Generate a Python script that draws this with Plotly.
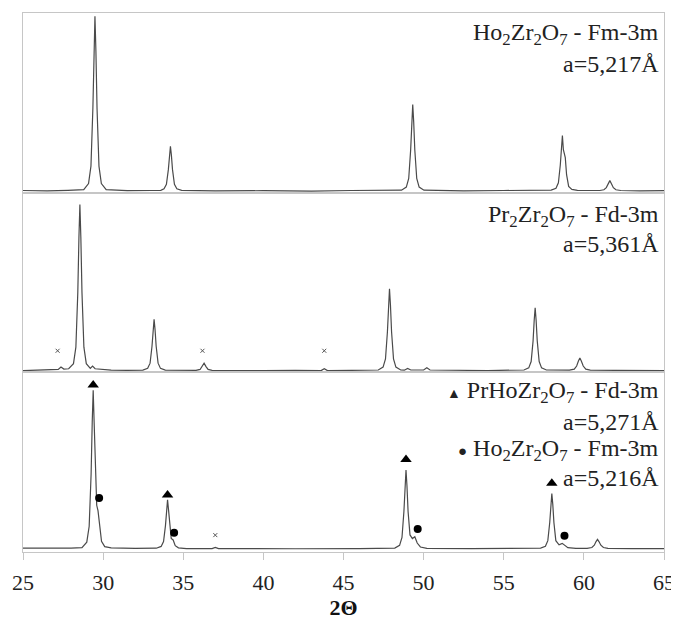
import plotly.graph_objects as go
from plotly.subplots import make_subplots

# ---------------- data ----------------
# Top pattern: Ho2Zr2O7 - Fm-3m
ho_2theta = [25.0, 26.5, 27.8, 28.79, 29.09, 29.24, 29.36, 29.43, 29.49, 29.55, 29.62, 29.74, 29.89, 30.19,
             31.5, 33.0, 33.6, 33.8, 33.95, 34.07, 34.14, 34.2, 34.26, 34.33, 34.45, 34.6, 34.9,
             37.0, 40.0, 43.0, 45.5, 48.62, 48.92, 49.07, 49.19, 49.26, 49.32, 49.38, 49.45, 49.57, 49.72, 50.02,
             52.5, 55.0, 57.96, 58.26, 58.41, 58.53, 58.6, 58.66, 58.72, 58.78, 58.84, 58.92, 59.05, 59.25, 59.6,
             61.0, 61.25, 61.4, 61.52, 61.62, 61.72, 61.84, 62.0, 62.3, 63.5, 65.0]
ho_int = [1.2, 1.0, 1.3, 1.7, 5.1, 14.8, 46.8, 78.8, 98.2, 78.8, 46.8, 14.8, 5.1, 1.7,
          1.1, 1.2, 1.3, 2.2, 4.6, 12.8, 20.9, 25.8, 20.9, 12.8, 4.6, 2.2, 1.3,
          1.0, 1.1, 0.9, 1.2, 1.4, 3.1, 7.9, 23.7, 39.4, 49.0, 39.4, 23.7, 7.9, 3.1, 1.4,
          1.0, 1.2, 1.4, 2.4, 5.5, 15.5, 26.0, 31.8, 24.0, 20.8, 19.5, 10.0, 3.5, 1.8, 1.3,
          1.2, 1.6, 2.8, 5.0, 6.7, 5.0, 2.8, 1.6, 1.2, 1.0, 1.1]

# Middle pattern: Pr2Zr2O7 - Fd-3m
pr_2theta = [25.0, 26.0, 27.0, 27.2, 27.37, 27.55, 27.85, 28.15, 28.3, 28.42, 28.49, 28.55, 28.61, 28.68,
             28.8, 28.95, 29.2, 29.34, 29.5, 30.5, 31.5, 32.48, 32.78, 32.93, 33.05, 33.12, 33.18, 33.24,
             33.31, 33.43, 33.58, 33.88, 35.0, 35.8, 36.05, 36.18, 36.3, 36.42, 36.55, 36.8, 38.5, 40.0,
             42.0, 43.6, 43.8, 44.0, 45.5, 47.17, 47.47, 47.62, 47.74, 47.81, 47.87, 47.93, 48.0, 48.12,
             48.27, 48.57, 48.8, 49.0, 49.2, 50.0, 50.2, 50.4, 52.0, 54.0, 56.26, 56.56, 56.71, 56.83,
             56.9, 56.96, 57.02, 57.09, 57.21, 57.36, 57.66, 58.5, 59.1, 59.4, 59.55, 59.66, 59.75, 59.84,
             59.96, 60.12, 60.4, 62.0, 63.5, 65.0]
pr_int = [1.0, 1.2, 1.3, 1.6, 3.0, 1.8, 2.0, 4.8, 14.0, 44.5, 75.0, 93.4, 75.0, 44.5,
          14.0, 4.8, 2.2, 3.5, 2.0, 1.2, 1.1, 1.2, 2.2, 5.1, 14.5, 23.8, 29.5, 23.8,
          14.5, 5.1, 2.2, 1.2, 1.0, 1.1, 1.6, 3.2, 5.1, 3.2, 1.6, 1.1, 0.9, 1.0,
          1.1, 1.0, 2.0, 1.0, 1.1, 1.3, 2.9, 7.5, 22.4, 37.5, 46.5, 37.5, 22.4, 7.5,
          2.9, 1.3, 1.2, 2.2, 1.3, 1.3, 2.5, 1.3, 1.0, 1.0, 1.3, 2.5, 6.0, 17.5,
          29.0, 35.9, 29.0, 17.5, 6.0, 2.5, 1.3, 1.1, 1.2, 1.8, 3.5, 6.3, 8.0, 6.3,
          3.5, 1.8, 1.2, 1.1, 1.0, 1.0]

# Bottom pattern: mixed PrHoZr2O7 (Fd-3m) + Ho2Zr2O7 (Fm-3m)
mix_2theta = [25.0, 27.0, 28.0, 28.68, 28.98, 29.13, 29.25, 29.32, 29.38, 29.44, 29.52, 29.6, 29.68, 29.76,
              29.9, 30.1, 30.5, 32.0, 33.32, 33.62, 33.77, 33.89, 33.96, 34.02, 34.08, 34.15, 34.25, 34.37,
              34.5, 34.7, 35.2, 36.8, 37.0, 37.2, 39.0, 42.0, 46.0, 48.2, 48.5, 48.65, 48.77, 48.84, 48.9,
              48.96, 49.03, 49.15, 49.3, 49.45, 49.6, 49.8, 50.2, 53.0, 56.0, 57.3, 57.6, 57.75, 57.87, 57.94,
              58.0, 58.06, 58.13, 58.25, 58.45, 58.65, 58.8, 59.0, 59.5, 60.2, 60.5, 60.65, 60.76, 60.85,
              60.94, 61.06, 61.22, 61.5, 63.0, 65.0]
mix_int = [2.2, 2.0, 2.2, 2.4, 5.5, 14.3, 43.4, 72.4, 90.0, 72.0, 42.0, 26.0, 23.0, 16.0,
           6.0, 3.0, 2.3, 2.0, 2.1, 3.1, 5.8, 14.7, 23.6, 29.0, 23.6, 14.7, 7.5, 6.7,
           3.5, 2.3, 1.9, 1.9, 2.6, 1.9, 1.8, 1.8, 1.9, 2.2, 3.7, 8.1, 22.5, 36.9, 45.6,
           36.9, 22.5, 9.5, 7.5, 8.5, 5.0, 2.8, 2.0, 1.9, 2.0, 2.2, 3.2, 6.3, 16.4, 26.5,
           32.6, 26.5, 16.4, 6.3, 4.0, 4.8, 3.6, 2.4, 2.0, 2.0, 2.5, 3.8, 5.8, 7.0,
           5.8, 3.8, 2.5, 2.0, 1.9, 1.9]

# Phase markers
tri_2theta = [29.38, 34.02, 48.9, 58.0]          # PrHoZr2O7 - Fd-3m
tri_int = [93.0, 31.7, 51.5, 38.2]
circ_2theta = [29.75, 34.43, 49.63, 58.79]       # Ho2Zr2O7 - Fm-3m
circ_int = [30.0, 10.7, 12.8, 9.0]
x_mid_2theta = [27.16, 36.2, 43.8]               # impurity marks, middle pattern
x_mid_int = [12.0, 12.0, 12.0]
x_bot_2theta = [37.0]                            # impurity mark, bottom pattern
x_bot_int = [9.4]

x_ticks = [25, 30, 35, 40, 45, 50, 55, 60, 65]

# ---------------- figure ----------------
LINE = "#4a4a4a"
FRAME = "#c6c6c6"
TXT = "#222222"
SERIF = "Liberation Serif"

fig = make_subplots(rows=3, cols=1, shared_xaxes=True, vertical_spacing=0)

fig.add_trace(go.Scatter(x=ho_2theta, y=ho_int, mode="lines",
                         line=dict(color=LINE, width=1.2)), row=1, col=1)
fig.add_trace(go.Scatter(x=pr_2theta, y=pr_int, mode="lines",
                         line=dict(color=LINE, width=1.2)), row=2, col=1)
fig.add_trace(go.Scatter(x=mix_2theta, y=mix_int, mode="lines",
                         line=dict(color=LINE, width=1.2)), row=3, col=1)

fig.add_trace(go.Scatter(x=x_mid_2theta, y=x_mid_int, mode="markers",
                         marker=dict(symbol="x-thin", size=4, line=dict(color="#555", width=1))),
              row=2, col=1)
fig.add_trace(go.Scatter(x=x_bot_2theta, y=x_bot_int, mode="markers",
                         marker=dict(symbol="x-thin", size=4, line=dict(color="#555", width=1))),
              row=3, col=1)
fig.add_trace(go.Scatter(x=tri_2theta, y=tri_int, mode="markers",
                         marker=dict(symbol="triangle-up", size=10, color="#000")), row=3, col=1)
fig.add_trace(go.Scatter(x=circ_2theta, y=circ_int, mode="markers",
                         marker=dict(symbol="circle", size=8, color="#000")), row=3, col=1)

for r in (1, 2, 3):
    fig.update_yaxes(range=[0, 100], showticklabels=False, ticks="", showgrid=False,
                     zeroline=False, showline=True, mirror=True, linecolor=FRAME, linewidth=1,
                     row=r, col=1)
    fig.update_xaxes(range=[25, 65], showgrid=False, zeroline=False, showline=True,
                     mirror=True, linecolor=FRAME, linewidth=1, row=r, col=1)

fig.update_xaxes(tickvals=x_ticks, ticks="outside", ticklen=7, tickcolor=FRAME,
                 ticklabelstandoff=4,
                 tickfont=dict(family=SERIF, size=22, color=TXT),
                 title=dict(text="<b>2Θ</b>", font=dict(family=SERIF, size=22, color="#111"),
                            standoff=0),
                 row=3, col=1)

ann_font = dict(family=SERIF, size=24, color=TXT)
labels = [
    ("Ho<sub>2</sub>Zr<sub>2</sub>O<sub>7</sub> - Fm-3m", 0.961),
    ("a=5,217Å", 0.9056),
    ("Pr<sub>2</sub>Zr<sub>2</sub>O<sub>7</sub> - Fd-3m", 0.624),
    ("a=5,361Å", 0.572),
    ("<span style='font-size:14px'>▲</span> PrHoZr<sub>2</sub>O<sub>7</sub> - Fd-3m", 0.2963),
    ("a=5,271Å", 0.2407),
    ("<span style='font-size:15px'>●</span> Ho<sub>2</sub>Zr<sub>2</sub>O<sub>7</sub> - Fm-3m", 0.1889),
    ("a=5,216Å", 0.137),
]
for text, yy in labels:
    fig.add_annotation(text=text, xref="paper", yref="paper", x=0.995, y=yy,
                       xanchor="right", yanchor="middle", showarrow=False, font=ann_font)

# The page body has an 8 px margin, so the figure is shifted by 8 px; compensate.
fig.update_layout(width=671, height=613, showlegend=False,
                  margin=dict(l=15, r=13, t=4, b=69),
                  font=dict(family=SERIF),
                  paper_bgcolor="white", plot_bgcolor="white")

fig.write_html("out.html")
